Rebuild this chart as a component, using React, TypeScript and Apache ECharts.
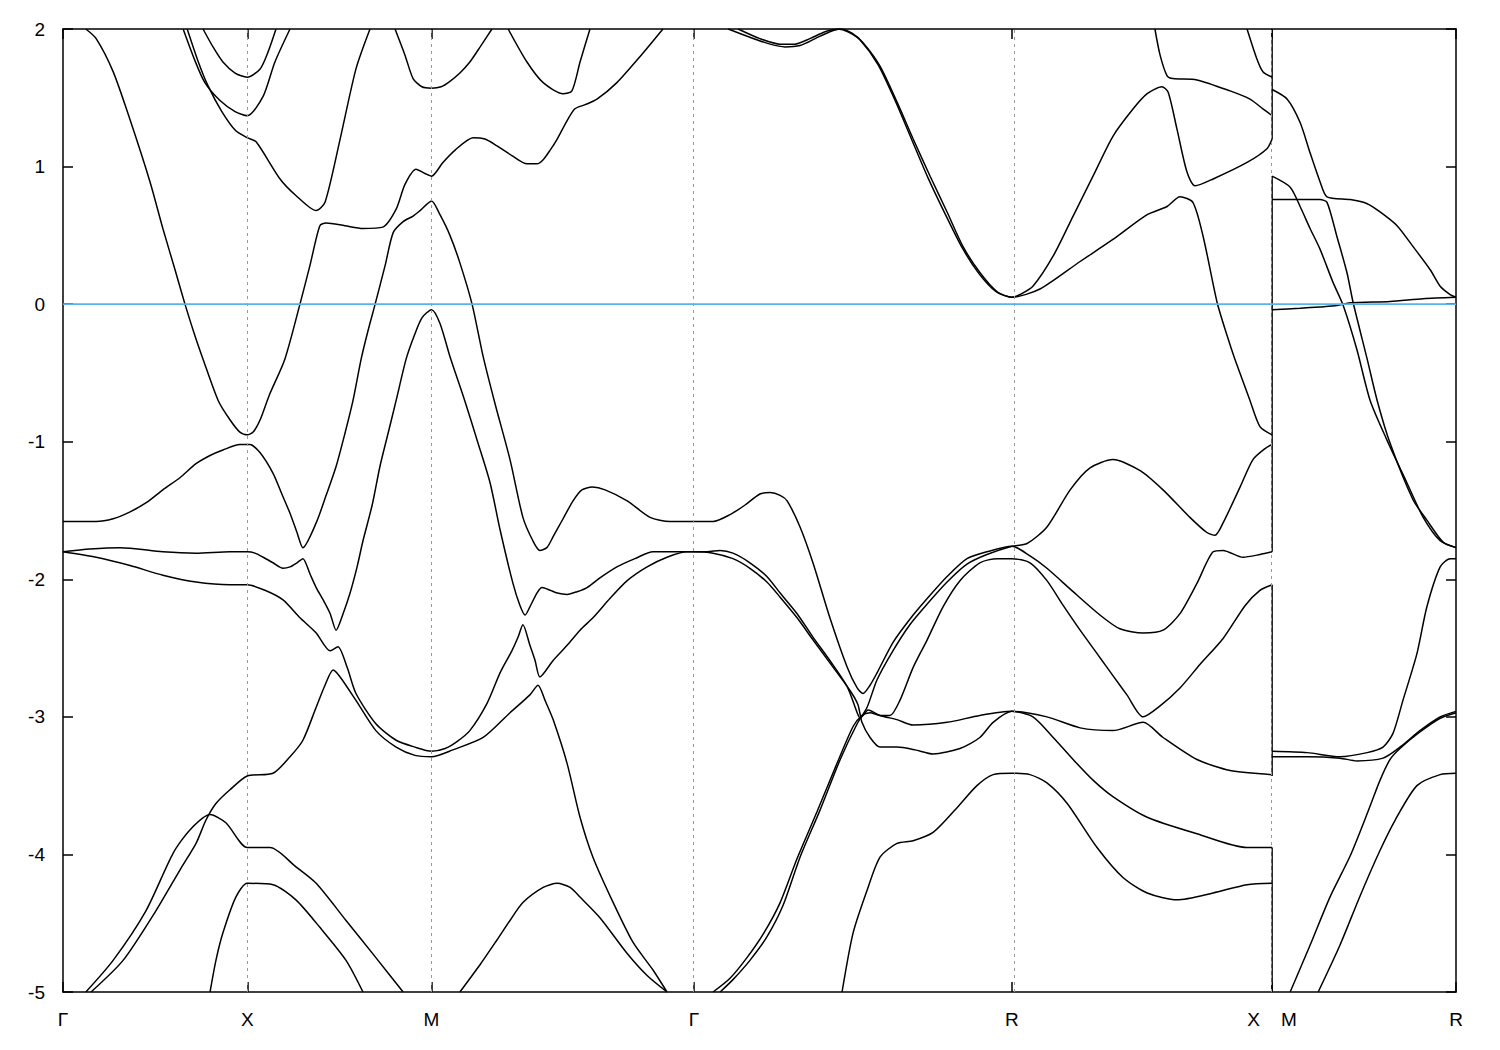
import React, { useEffect, useRef } from "react";
import * as echarts from "echarts";

// ---- high-symmetry path (k in units of 2pi/a) ----
const kTicks = [0, 0.5, 1.0, 1.712, 2.575, 3.281, 3.78];
const kLabels = ["Γ", "X", "M", "Γ", "R", "X\u00a0\u00a0\u00a0\u00a0M", "R"];
const gridKs = [0.5, 1.0, 1.712, 2.575, 3.281];
const kBreak = 3.281;
const kMax = 3.78;
const eMin = -5;
const eMax = 2;
const eStep = 1;
const fermiLevel = 0;
// vertical jumps drawn at the X|M break (E from, E to)
const jumpSegments = [
  [2.0, 1.2],
  [0.93, -1.8],
  [-2.04, -3.43],
  [-3.95, -5.0],
];

// ---- bands: [k, E(eV)] ----
const bandA = [[0.062,2.00],[0.090,1.93],[0.136,1.69],[0.182,1.34],[0.236,0.89],[0.271,0.55],[0.304,0.25],[0.331,0.00],[0.358,-0.23],[0.380,-0.40],[0.421,-0.70],[0.453,-0.84],[0.480,-0.93],[0.500,-0.95],[0.516,-0.93],[0.535,-0.84],[0.560,-0.66],[0.602,-0.40],[0.643,0.00],[0.670,0.28],[0.697,0.57],[0.714,0.59],[0.765,0.57],[0.814,0.55],[0.868,0.56],[0.904,0.69],[0.928,0.87],[0.958,0.98],[0.982,0.95],[1.000,0.93],[1.031,1.03],[1.064,1.12],[1.113,1.21],[1.145,1.20],[1.178,1.15],[1.218,1.08],[1.259,1.02],[1.286,1.02],[1.303,1.05],[1.322,1.12],[1.341,1.20],[1.365,1.32],[1.389,1.42],[1.417,1.45],[1.449,1.49],[1.503,1.61],[1.566,1.80],[1.628,2.00]];
const bandX164 = [[0.380,2.00],[0.407,1.87],[0.434,1.76],[0.467,1.68],[0.500,1.65],[0.535,1.71],[0.556,1.83],[0.578,2.00]];
const bandX136 = [[0.326,2.00],[0.358,1.77],[0.385,1.61],[0.426,1.48],[0.467,1.40],[0.500,1.37],[0.543,1.51],[0.575,1.76],[0.616,2.00]];
const bandX120 = [[0.337,2.00],[0.366,1.77],[0.393,1.59],[0.431,1.40],[0.469,1.26],[0.500,1.21],[0.524,1.18],[0.589,0.91],[0.632,0.79],[0.687,0.68],[0.711,0.74],[0.752,1.20],[0.795,1.71],[0.833,2.00]];
const bandM157 = [[0.901,2.00],[0.928,1.81],[0.950,1.64],[0.974,1.58],[1.000,1.57],[1.026,1.58],[1.050,1.62],[1.077,1.68],[1.104,1.76],[1.132,1.87],[1.164,2.00]];
const bandMG152 = [[1.208,2.00],[1.259,1.76],[1.303,1.61],[1.357,1.53],[1.381,1.55],[1.403,1.76],[1.430,2.00]];
const bandB = [[0,-1.58],[0.046,-1.58],[0.090,-1.58],[0.136,-1.56],[0.182,-1.51],[0.228,-1.44],[0.271,-1.35],[0.318,-1.26],[0.361,-1.16],[0.399,-1.10],[0.434,-1.06],[0.480,-1.02],[0.500,-1.02],[0.507,-1.02],[0.535,-1.08],[0.570,-1.23],[0.597,-1.40],[0.616,-1.52],[0.635,-1.66],[0.651,-1.77],[0.687,-1.59],[0.714,-1.39],[0.741,-1.18],[0.765,-0.94],[0.787,-0.70],[0.809,-0.40],[0.828,-0.19],[0.847,0.00],[0.874,0.28],[0.896,0.52],[0.923,0.60],[0.950,0.64],[0.969,0.68],[1.000,0.75],[1.023,0.65],[1.050,0.50],[1.077,0.30],[1.110,0.00],[1.140,-0.38],[1.172,-0.72],[1.213,-1.13],[1.248,-1.55],[1.275,-1.72],[1.294,-1.79],[1.313,-1.77],[1.330,-1.69],[1.357,-1.56],[1.384,-1.43],[1.408,-1.35],[1.436,-1.33],[1.471,-1.35],[1.531,-1.43],[1.593,-1.55],[1.647,-1.58],[1.712,-1.58],[1.764,-1.58],[1.810,-1.53],[1.851,-1.46],[1.891,-1.38],[1.919,-1.37],[1.946,-1.39],[1.965,-1.43],[2.000,-1.62],[2.035,-1.88],[2.081,-2.28],[2.128,-2.64],[2.155,-2.79],[2.171,-2.83],[2.190,-2.77],[2.209,-2.68],[2.252,-2.46],[2.298,-2.29],[2.345,-2.14],[2.399,-1.98],[2.453,-1.85],[2.507,-1.80],[2.575,-1.76],[2.624,-1.83],[2.670,-1.92],[2.741,-2.09],[2.814,-2.26],[2.868,-2.36],[2.931,-2.39],[2.985,-2.37],[3.031,-2.25],[3.077,-2.03],[3.121,-1.80],[3.148,-1.79],[3.202,-1.84],[3.248,-1.82],[3.281,-1.80]];
const bandC = [[0,-1.80],[0.073,-1.78],[0.155,-1.77],[0.271,-1.80],[0.361,-1.81],[0.453,-1.80],[0.500,-1.80],[0.521,-1.81],[0.543,-1.84],[0.570,-1.88],[0.597,-1.92],[0.616,-1.91],[0.635,-1.88],[0.651,-1.85],[0.670,-1.96],[0.687,-2.06],[0.706,-2.15],[0.725,-2.25],[0.741,-2.37],[0.760,-2.25],[0.779,-2.10],[0.798,-1.91],[0.814,-1.72],[0.839,-1.46],[0.860,-1.18],[0.882,-0.94],[0.904,-0.70],[0.931,-0.40],[0.953,-0.23],[0.974,-0.10],[1.000,-0.04],[1.023,-0.14],[1.050,-0.38],[1.090,-0.70],[1.125,-1.00],[1.159,-1.30],[1.186,-1.64],[1.221,-2.03],[1.240,-2.19],[1.254,-2.26],[1.267,-2.20],[1.286,-2.10],[1.300,-2.06],[1.322,-2.08],[1.341,-2.10],[1.368,-2.11],[1.395,-2.09],[1.422,-2.06],[1.457,-1.99],[1.503,-1.91],[1.552,-1.85],[1.601,-1.80],[1.655,-1.80],[1.712,-1.80],[1.748,-1.80],[1.783,-1.79],[1.818,-1.81],[1.864,-1.88],[1.910,-1.98],[1.946,-2.10],[1.992,-2.25],[2.035,-2.42],[2.081,-2.59],[2.128,-2.78],[2.155,-2.97],[2.163,-3.01],[2.185,-2.95],[2.217,-2.99],[2.263,-3.02],[2.307,-3.06],[2.399,-3.04],[2.488,-2.99],[2.575,-2.96],[2.670,-3.00],[2.760,-3.08],[2.849,-3.10],[2.931,-3.04],[2.985,-3.15],[3.077,-3.31],[3.167,-3.39],[3.281,-3.42]];
const bandD = [[0,-1.80],[0.090,-1.84],[0.182,-1.90],[0.271,-1.97],[0.361,-2.02],[0.453,-2.04],[0.500,-2.04],[0.548,-2.08],[0.597,-2.15],[0.643,-2.28],[0.687,-2.39],[0.725,-2.52],[0.746,-2.49],[0.771,-2.64],[0.795,-2.83],[0.849,-3.05],[0.904,-3.17],[0.955,-3.22],[1.000,-3.25],[1.037,-3.23],[1.069,-3.18],[1.104,-3.10],[1.151,-2.90],[1.186,-2.68],[1.218,-2.52],[1.235,-2.42],[1.248,-2.33],[1.267,-2.48],[1.281,-2.59],[1.294,-2.71],[1.330,-2.59],[1.368,-2.48],[1.403,-2.37],[1.438,-2.28],[1.484,-2.14],[1.531,-2.01],[1.585,-1.91],[1.639,-1.84],[1.693,-1.80],[1.712,-1.80],[1.764,-1.81],[1.818,-1.85],[1.864,-1.92],[1.910,-2.02],[1.946,-2.13],[1.992,-2.28],[2.035,-2.44],[2.090,-2.64],[2.136,-2.81],[2.157,-2.91],[2.168,-3.04],[2.190,-3.15],[2.217,-3.22],[2.263,-3.22],[2.312,-3.24],[2.361,-3.27],[2.434,-3.23],[2.488,-3.15],[2.524,-3.04],[2.575,-2.96],[2.632,-3.00],[2.687,-3.15],[2.741,-3.31],[2.795,-3.46],[2.849,-3.58],[2.942,-3.73],[3.077,-3.85],[3.213,-3.95],[3.281,-3.95]];
const bandE = [[0.076,-5.00],[0.163,-4.77],[0.252,-4.41],[0.318,-4.11],[0.361,-3.92],[0.388,-3.75],[0.415,-3.63],[0.453,-3.53],[0.500,-3.43],[0.570,-3.41],[0.616,-3.29],[0.651,-3.17],[0.687,-2.93],[0.711,-2.77],[0.733,-2.66],[0.752,-2.71],[0.795,-2.88],[0.849,-3.10],[0.904,-3.22],[0.955,-3.28],[1.000,-3.29],[1.058,-3.24],[1.140,-3.15],[1.213,-2.97],[1.267,-2.84],[1.289,-2.77],[1.308,-2.88],[1.330,-3.02],[1.368,-3.34],[1.403,-3.73],[1.438,-4.02],[1.493,-4.35],[1.547,-4.64],[1.601,-4.84],[1.639,-5.00]];
const bandF = [[0.062,-5.00],[0.136,-4.77],[0.225,-4.41],[0.299,-3.99],[0.345,-3.82],[0.399,-3.71],[0.442,-3.77],[0.500,-3.95],[0.562,-3.95],[0.632,-4.09],[0.687,-4.21],[0.768,-4.48],[0.849,-4.75],[0.923,-5.00]];
const bandG = [[0.399,-5.00],[0.415,-4.77],[0.434,-4.57],[0.469,-4.31],[0.500,-4.21],[0.570,-4.22],[0.632,-4.33],[0.697,-4.53],[0.768,-4.77],[0.814,-5.00]];
const bandH = [[1.077,-5.00],[1.132,-4.80],[1.178,-4.62],[1.213,-4.48],[1.248,-4.35],[1.303,-4.24],[1.341,-4.21],[1.376,-4.24],[1.403,-4.31],[1.457,-4.46],[1.531,-4.72],[1.585,-4.88],[1.639,-5.00]];
const bandTopA = [[1.805,2.00],[1.864,1.94],[1.919,1.89],[1.959,1.87],[2.000,1.88],[2.041,1.93],[2.081,1.98],[2.109,2.00],[2.141,1.97],[2.171,1.90],[2.217,1.73],[2.263,1.47],[2.307,1.20],[2.353,0.93],[2.399,0.67],[2.442,0.42],[2.488,0.23],[2.535,0.09],[2.575,0.05],[2.597,0.07],[2.632,0.13],[2.687,0.35],[2.741,0.64],[2.795,0.93],[2.849,1.22],[2.904,1.42],[2.942,1.53],[2.982,1.58],[2.999,1.54],[3.023,1.27],[3.050,0.96],[3.072,0.86],[3.121,0.91],[3.213,1.03],[3.267,1.13],[3.281,1.20]];
const bandTopB = [[1.832,2.00],[1.891,1.93],[1.946,1.89],[1.986,1.89],[2.027,1.93],[2.068,1.98],[2.103,2.00],[2.130,1.98],[2.163,1.92],[2.212,1.74],[2.258,1.48],[2.304,1.19],[2.347,0.92],[2.393,0.66],[2.440,0.41],[2.486,0.22],[2.532,0.09],[2.575,0.05],[2.651,0.11],[2.760,0.31],[2.849,0.47],[2.942,0.65],[2.996,0.71],[3.031,0.78],[3.066,0.74],[3.094,0.49],[3.132,0.01],[3.159,-0.23],[3.180,-0.40],[3.221,-0.70],[3.248,-0.89],[3.281,-0.95]];
const bandSteep1 = [[1.783,-5.00],[1.818,-4.91],[1.864,-4.77],[1.910,-4.60],[1.954,-4.37],[2.000,-4.02],[2.054,-3.68],[2.109,-3.31],[2.155,-3.05],[2.182,-2.93],[2.209,-2.73],[2.252,-2.52],[2.298,-2.33],[2.345,-2.18],[2.399,-2.02],[2.453,-1.89],[2.507,-1.82],[2.575,-1.76],[2.616,-1.74],[2.670,-1.62],[2.733,-1.35],[2.787,-1.19],[2.849,-1.13],[2.923,-1.21],[2.985,-1.35],[3.058,-1.55],[3.104,-1.66],[3.126,-1.68],[3.148,-1.59],[3.194,-1.33],[3.229,-1.13],[3.262,-1.05],[3.281,-1.02]];
const bandSteep2 = [[1.764,-5.00],[1.810,-4.90],[1.856,-4.75],[1.902,-4.57],[1.946,-4.35],[1.992,-4.03],[2.046,-3.69],[2.100,-3.34],[2.144,-3.07],[2.168,-2.99],[2.190,-2.97],[2.217,-2.99],[2.244,-2.99],[2.271,-2.88],[2.307,-2.64],[2.345,-2.44],[2.388,-2.20],[2.434,-2.01],[2.488,-1.88],[2.535,-1.85],[2.575,-1.85],[2.624,-1.88],[2.670,-2.01],[2.714,-2.19],[2.760,-2.37],[2.814,-2.57],[2.849,-2.70],[2.887,-2.84],[2.931,-3.00],[2.977,-2.92],[3.031,-2.79],[3.085,-2.62],[3.148,-2.43],[3.208,-2.19],[3.248,-2.08],[3.281,-2.04]];
const bandR340 = [[2.114,-5.00],[2.144,-4.57],[2.182,-4.26],[2.217,-4.02],[2.263,-3.92],[2.307,-3.90],[2.361,-3.84],[2.426,-3.66],[2.480,-3.50],[2.524,-3.42],[2.575,-3.41],[2.624,-3.42],[2.670,-3.48],[2.725,-3.63],[2.806,-3.95],[2.877,-4.17],[2.942,-4.28],[3.023,-4.33],[3.121,-4.28],[3.213,-4.22],[3.281,-4.21]];
const bandRX162 = [[2.963,2.00],[2.977,1.81],[2.996,1.66],[3.012,1.64],[3.077,1.63],[3.167,1.55],[3.221,1.49],[3.256,1.42],[3.281,1.37]];
const bandRX164 = [[3.213,2.00],[3.240,1.78],[3.256,1.69],[3.281,1.65]];
const bandMR1 = [[3.281,1.56],[3.322,1.49],[3.357,1.32],[3.384,1.10],[3.411,0.89],[3.430,0.78],[3.493,0.76],[3.539,0.73],[3.574,0.67],[3.620,0.57],[3.663,0.42],[3.710,0.25],[3.737,0.13],[3.764,0.07],[3.780,0.05]];
const bandMR2 = [[3.281,0.93],[3.330,0.85],[3.357,0.71],[3.384,0.55],[3.411,0.40],[3.446,0.16],[3.474,-0.01],[3.511,-0.33],[3.547,-0.70],[3.593,-0.99],[3.647,-1.30],[3.691,-1.55],[3.737,-1.72],[3.780,-1.77]];
const bandMR3 = [[3.281,0.76],[3.357,0.76],[3.411,0.76],[3.430,0.74],[3.457,0.49],[3.484,0.23],[3.501,0.01],[3.539,-0.40],[3.566,-0.70],[3.601,-1.01],[3.663,-1.42],[3.701,-1.57],[3.745,-1.73],[3.780,-1.77]];
const bandMR4 = [[3.281,-0.04],[3.357,-0.03],[3.411,-0.02],[3.457,-0.01],[3.493,0.01],[3.601,0.02],[3.691,0.04],[3.780,0.05]];
const bandMR5 = [[3.281,-3.25],[3.376,-3.26],[3.465,-3.29],[3.539,-3.26],[3.582,-3.22],[3.609,-3.12],[3.636,-2.88],[3.674,-2.54],[3.701,-2.20],[3.737,-1.91],[3.764,-1.85],[3.780,-1.85]];
const bandMR6 = [[3.281,-3.29],[3.376,-3.29],[3.465,-3.30],[3.511,-3.32],[3.582,-3.30],[3.628,-3.22],[3.682,-3.10],[3.737,-3.00],[3.780,-2.96]];
const bandMR7 = [[3.330,-5.00],[3.384,-4.66],[3.438,-4.31],[3.493,-4.01],[3.541,-3.69],[3.574,-3.46],[3.601,-3.31],[3.628,-3.23],[3.682,-3.11],[3.737,-3.01],[3.780,-2.97]];
const bandMR8 = [[3.406,-5.00],[3.465,-4.66],[3.520,-4.30],[3.574,-3.97],[3.615,-3.75],[3.674,-3.50],[3.737,-3.42],[3.780,-3.41]];

const bands = [
  bandA, bandX164, bandX136, bandX120, bandM157, bandMG152, bandB, bandC, bandD,
  bandE, bandF, bandG, bandH, bandTopA, bandTopB, bandSteep1, bandSteep2, bandR340,
  bandRX162, bandRX164, bandMR1, bandMR2, bandMR3, bandMR4, bandMR5, bandMR6, bandMR7, bandMR8,
];

const FONT = "'Liberation Sans', Arial, Helvetica, sans-serif";

export default function App() {
  const ref = useRef<HTMLDivElement>(null);
  useEffect(() => {
    if (!ref.current) return;
    const chart = echarts.init(ref.current, undefined, { renderer: "svg" });
    const axisLine = { show: true, onZero: false, lineStyle: { color: "#000", width: 1.5 } };
    const tickStyle = { color: "#000", width: 1.5 };
    const bandSeries = bands.map((d) => ({
      type: "line",
      data: d,
      symbol: "none",
      showSymbol: false,
      smooth: 0.25,
      lineStyle: { color: "#000", width: 1.5 },
      silent: true,
      z: 3,
    }));
    const jumpSeries = jumpSegments.map(([a, b]) => ({
      type: "line",
      data: [[kBreak, a], [kBreak, b]],
      symbol: "none",
      showSymbol: false,
      lineStyle: { color: "#000", width: 1.5 },
      silent: true,
      z: 3,
    }));
    chart.setOption({
      animation: false,
      backgroundColor: "#fff",
      grid: { left: 63, top: 29, width: 1393, height: 963, containLabel: false },
      xAxis: [
        {
          type: "value",
          min: 0,
          max: kMax,
          position: "bottom",
          axisLine,
          splitLine: { show: false },
          axisTick: { show: true, inside: true, length: 10, customValues: kTicks, lineStyle: tickStyle },
          axisLabel: {
            show: true,
            customValues: kTicks,
            margin: 18,
            color: "#000",
            fontSize: 19,
            fontFamily: FONT,
            formatter: (v: number) => {
              const i = kTicks.findIndex((t) => Math.abs(t - v) < 1e-6);
              return i >= 0 ? kLabels[i] : "";
            },
          },
        },
        {
          type: "value",
          min: 0,
          max: kMax,
          position: "top",
          axisLine,
          splitLine: { show: false },
          axisTick: { show: true, inside: true, length: 10, customValues: kTicks, lineStyle: tickStyle },
          axisLabel: { show: false },
        },
      ],
      yAxis: [
        {
          type: "value",
          min: eMin,
          max: eMax,
          interval: eStep,
          position: "left",
          axisLine,
          splitLine: { show: false },
          axisTick: { show: true, inside: true, length: 10, lineStyle: tickStyle },
          axisLabel: { margin: 18, color: "#000", fontSize: 19, fontFamily: FONT },
        },
        {
          type: "value",
          min: eMin,
          max: eMax,
          interval: eStep,
          position: "right",
          axisLine,
          splitLine: { show: false },
          axisTick: { show: true, inside: true, length: 10, lineStyle: tickStyle },
          axisLabel: { show: false },
        },
      ],
      series: [
        {
          type: "line",
          data: [],
          silent: true,
          z: 1,
          markLine: {
            silent: true,
            symbol: ["none", "none"],
            label: { show: false },
            lineStyle: { color: "#999", type: [3, 4], width: 1 },
            data: gridKs.map((k) => ({ xAxis: k })),
          },
        },
        ...bandSeries,
        ...jumpSeries,
        {
          type: "line",
          data: [[0, fermiLevel], [kMax, fermiLevel]],
          symbol: "none",
          showSymbol: false,
          lineStyle: { color: "#56b4e9", width: 1.8 },
          silent: true,
          z: 5,
        },
      ],
    });
    return () => chart.dispose();
  }, []);
  return (
    <div
      ref={ref}
      style={{ position: "absolute", left: 0, top: 0, width: 1500, height: 1050, background: "#fff" }}
    />
  );
}
